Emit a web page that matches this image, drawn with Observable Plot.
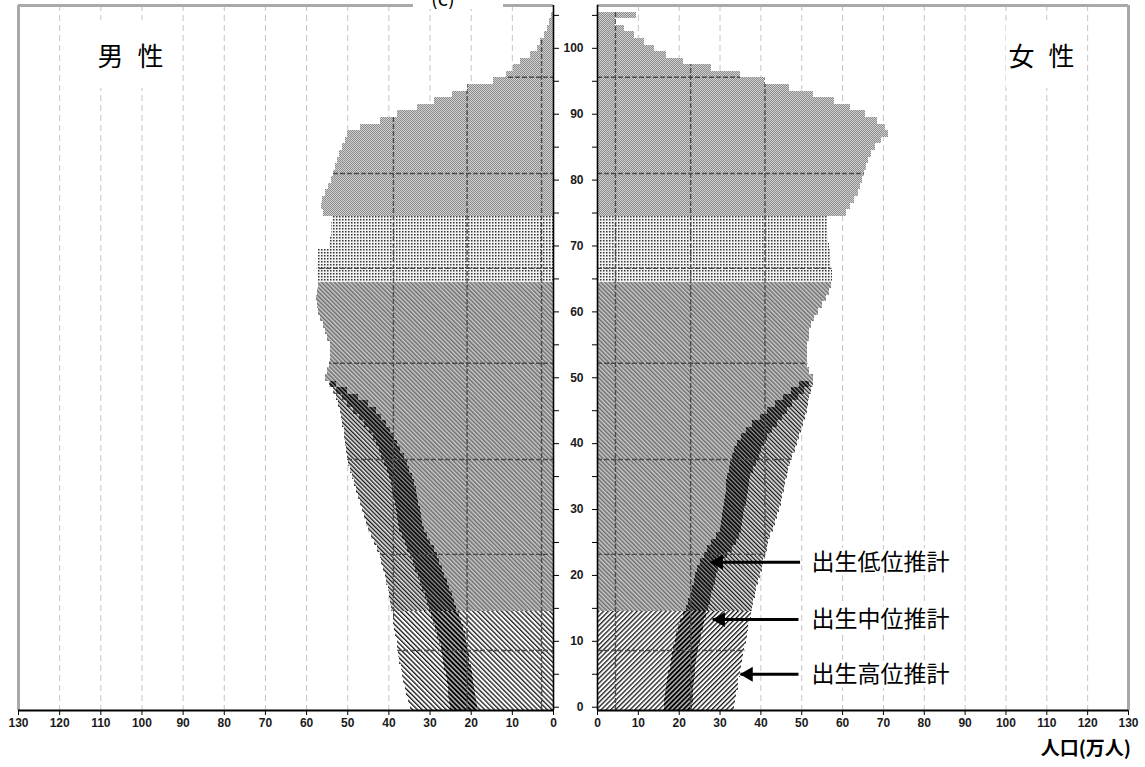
<!DOCTYPE html>
<html><head><meta charset="utf-8">
<script src="https://cdn.jsdelivr.net/npm/d3@7"></script>
<script src="https://cdn.jsdelivr.net/npm/@observablehq/plot@0.6"></script>
<style>
body{margin:0;background:#fff;}
#wrap{position:relative;width:1145px;height:767px;overflow:hidden;background:#fff;}
#left,#right{position:absolute;top:0;}
#left{left:0;} #right{left:555px;}
.box{position:absolute;background:#fff;display:flex;align-items:center;justify-content:center;font-family:"Noto Sans CJK JP",sans-serif;color:#000;}
.sex{font-size:26px;letter-spacing:4px;}
#unit{position:absolute;right:14px;top:733px;font-family:"Noto Sans CJK JP",sans-serif;font-weight:bold;font-size:19px;color:#000;}
#ttl{position:absolute;left:413px;top:0;width:90px;height:9px;overflow:hidden;background:#fff;}
#ttl span{position:absolute;left:18px;top:-14px;font-family:"Noto Sans CJK JP",sans-serif;font-size:20px;line-height:24px;}
</style></head><body>
<svg id="pat" width="0" height="0" style="position:absolute"><defs></defs></svg>
<div id="wrap">
  <div id="left"></div>
  <div id="right"></div>
  <div id="ttl"><span>(c)</span></div>
  <div class="box sex" style="left:95px;top:20px;width:75px;height:68px;">男 性</div>
  <div class="box sex" style="left:1006px;top:20px;width:75px;height:68px;">女 性</div>
  <div id="unit">人口(万人)</div>
</div>
<script>
// ---------------- data (万人) ----------------
const ages = d3.range(0, 106);            // 0 ... 105(+)
// ages 0-49: three birth variants
const maleLow  = [18.5,18.7,18.9,19.2,19.5,19.8,20.0,20.3,20.5,20.8,21.1,21.5,21.9,22.4,22.9,23.5,24.0,24.6,25.2,25.8,26.4,27.0,27.6,28.2,29.0,29.8,30.6,31.3,31.8,32.1,32.4,32.7,33.0,33.4,33.8,34.3,34.9,35.5,36.3,37.1,37.9,38.6,39.5,40.5,41.7,43.0,45.0,47.3,50.0,52.8];
const maleMed  = [25.0,25.2,25.4,25.6,25.8,26.1,26.4,26.7,27.0,27.3,27.7,28.1,28.6,29.1,29.6,30.1,30.6,31.2,31.8,32.3,32.9,33.5,34.1,34.8,35.4,36.0,36.7,37.3,37.6,37.8,38.1,38.4,38.8,39.1,39.4,39.8,40.4,41.0,41.7,42.3,42.9,43.8,44.8,45.9,47.2,48.6,50.0,51.3,52.7,54.2];
const maleHigh = [34.8,35.2,35.6,36.0,36.4,36.7,37.0,37.3,37.6,37.8,38.0,38.3,38.6,38.8,39.0,39.3,39.6,39.9,40.2,40.5,40.9,41.3,41.7,42.1,42.8,43.5,44.2,44.9,45.4,45.9,46.4,46.9,47.3,47.8,48.3,48.8,49.3,49.7,50.0,50.3,50.5,50.7,50.9,51.2,51.5,51.8,52.3,52.8,53.5,54.5];
// ages 50-105+: common to all variants
const maleOld  = [55.4,54.8,54.4,54.2,54.2,54.3,54.8,55.4,56.0,56.6,57.0,57.3,57.5,57.4,57.1,57.2,57.4,57.4,57.2,57.0,54.4,54.2,54.0,53.9,53.8,55.9,56.4,56.2,55.4,54.7,54.0,53.4,53.0,52.5,52.0,51.3,50.6,50.0,47.0,42.0,38.0,33.0,29.0,24.5,21.0,14.5,11.5,9.6,8.0,5.5,4.0,3.2,2.2,1.5,1.0,0.5];
const femaleLow  = [16.3,16.4,16.6,16.9,17.2,17.5,17.8,18.1,18.4,18.7,19.0,19.4,19.8,20.3,21.0,21.8,22.4,22.9,23.3,23.7,24.1,24.5,25.3,26.2,27.0,28.0,29.1,30.0,30.3,30.6,30.9,31.2,31.4,31.6,31.7,31.8,32.2,32.5,33.0,33.6,34.3,35.2,36.4,38.0,39.8,41.6,43.5,45.5,47.5,49.5];
const femaleMed  = [23.3,23.4,23.5,23.6,23.7,23.9,24.1,24.3,24.5,24.8,25.1,25.5,25.9,26.3,26.8,27.2,27.6,28.0,28.4,28.8,29.2,29.6,30.6,31.8,33.0,34.0,34.7,35.2,35.5,35.8,36.1,36.4,36.7,36.9,37.2,37.5,38.1,38.9,39.6,40.2,40.8,41.7,42.8,44.1,45.3,46.5,47.8,49.2,50.6,51.8];
const femaleHigh = [33.5,33.8,34.1,34.4,34.6,34.9,35.2,35.5,35.8,36.1,36.4,36.7,37.0,37.3,37.6,37.9,38.2,38.6,39.0,39.4,39.9,40.3,40.7,41.1,41.5,41.9,42.3,43.0,43.5,44.1,44.6,45.0,45.3,45.7,46.1,46.5,46.8,47.2,47.8,48.4,49.0,49.4,49.9,50.4,50.9,51.4,51.7,52.0,52.4,52.8];
const femaleOld  = [53.0,52.0,51.5,51.3,51.3,51.5,51.8,52.0,52.5,53.2,54.0,55.0,56.0,56.8,57.3,57.6,57.6,57.4,57.2,57.0,56.8,56.6,56.5,56.3,56.2,61.0,62.0,63.0,63.8,64.3,64.8,65.3,65.8,66.3,67.0,68.0,69.6,71.2,70.5,68.5,65.5,62.0,58.0,53.0,47.0,41.0,35.0,28.0,21.0,17.0,14.0,11.5,9.0,6.5,4.5,9.5];
// age groups (start ages)
const groupStarts = [0, 15, 65, 75];
const groupNames  = ["g0", "g15", "g65", "g75"];
// ticks
const xTicks = [0,10,20,30,40,50,60,70,80,90,100,110,120,130];
const xTickLabels = ["0","10","20","30","40","50","60","70","80","90","100","110","120","130"];
const gridTicks = [10,20,30,40,50,60,70,80,90,100,110,120];
const yTicksMinor = [0,5,10,15,20,25,30,35,40,45,50,55,60,65,70,75,80,85,90,95,100,105];
const yTicksMajor = [0,10,20,30,40,50,60,70,80,90,100];
// dark grid drawn inside the bars
const innerGridAges = [8.6,23.2,37.6,52.2,66.6,81.0,95.6];
const innerGridMale = [2.9,21.0,38.9];
const innerGridFemale = [4.4,22.8,41.0];
// annotations
const noteLabels = ["出生低位推計","出生中位推計","出生高位推計"];
const noteAges   = [22.0, 13.3, 5.0];
const noteTips   = [27.7, 28.2, 35.0];
const noteTails  = [49.6, 49.2, 49.2];
const noteTextX  = [52.4, 52.4, 52.4];

// ---------------- patterns ----------------
const defs = d3.select("#pat defs");
function hatch(id, angle, size, lw, bg, fg){
  const p = defs.append("pattern").attr("id", id).attr("width", size).attr("height", size)
    .attr("patternUnits","userSpaceOnUse").attr("patternTransform", `rotate(${angle})`);
  p.append("rect").attr("width", size).attr("height", size).attr("fill", bg);
  p.append("rect").attr("width", lw).attr("height", size).attr("fill", fg);
}
hatch("in15",  -45, 3.0, 1.5, "#cdcdcd", "#6c6c6c");
hatch("in0L",  -45, 3.4, 1.4, "#ffffff", "#2a2a2a");
hatch("in0R",   45, 3.4, 1.4, "#ffffff", "#2a2a2a");
hatch("hi15",  -45, 3.0, 1.3, "#e6e6e6", "#161616");
hatch("hi0L",  -45, 3.4, 1.3, "#ffffff", "#111111");
hatch("hi0R",   45, 3.4, 1.3, "#ffffff", "#111111");
hatch("md15",  -45, 3.0, 1.7, "#9a9a9a", "#000000");
hatch("md0L",  -45, 3.4, 1.8, "#b0b0b0", "#000000");
hatch("md0R",   45, 3.4, 1.8, "#b0b0b0", "#000000");
{
  const p = defs.append("pattern").attr("id","p65").attr("width",3).attr("height",3).attr("patternUnits","userSpaceOnUse");
  p.append("rect").attr("width",3).attr("height",3).attr("fill","#f2f2f2");
  p.append("rect").attr("width",1.5).attr("height",1.5).attr("fill","#353535");
  const q = defs.append("pattern").attr("id","p75").attr("width",2).attr("height",2).attr("patternUnits","userSpaceOnUse");
  q.append("rect").attr("width",2).attr("height",2).attr("fill","#d0d0d0");
  q.append("rect").attr("width",1).attr("height",1).attr("fill","#8c8c8c");
  q.append("rect").attr("x",1).attr("y",1).attr("width",1).attr("height",1).attr("fill","#8c8c8c");
}

function groupOf(a){ let g = 0; groupStarts.forEach((s,i)=>{ if (a >= s) g = i; }); return groupNames[g]; }

function barMarks(low, med, high, old, side){
  const lowRows  = ages.map(a => ({age:a, v: a < 50 ? low[a] : old[a-50], g: groupOf(a)}));
  const medRows  = ages.filter(a => a < 50).map(a => ({age:a, v: med[a], g: groupOf(a)}));
  const highRows = ages.filter(a => a < 50).map(a => ({age:a, v: high[a], g: groupOf(a)}));
  const fills = {
    high: {g0: `hi0${side}`, g15: "hi15"},
    med:  {g0: `md0${side}`, g15: "md15"},
    low:  {g0: `in0${side}`, g15: "in15", g65: "p65", g75: "p75"}
  };
  const layers = [["high", highRows], ["med", medRows], ["low", lowRows]];
  const marks = [];
  for (const [layer, rows] of layers) {
    for (const [g, pid] of Object.entries(fills[layer])) {
      marks.push(Plot.rect(rows.filter(d => d.g === g), {
        x1: () => 0, x2: "v", y1: d => d.age - 0.5, y2: d => d.age + 0.5,
        fill: `url(#${pid})`, shapeRendering: "crispEdges", ariaDescription: "bars"
      }));
    }
  }
  return marks;
}

function commonMarks(innerX){
  return [
    Plot.ruleY(innerGridAges, {stroke:"#4a4a4a", strokeWidth:1.4, strokeDasharray:"5,2", ariaDescription:"innergrid"}),
    Plot.ruleX(innerX, {stroke:"#4a4a4a", strokeWidth:1.4, strokeDasharray:"5,2", ariaDescription:"innergrid"}),
    Plot.ruleX([130], {stroke:"#a9a9a9", strokeWidth:3}),
    Plot.ruleY([106.5], {stroke:"#a9a9a9", strokeWidth:3}),
    Plot.ruleX([0], {stroke:"#000", strokeWidth:1.6}),
    Plot.ruleY([-0.5], {stroke:"#000", strokeWidth:2}),
    Plot.axisX(xTicks, {anchor:"bottom", tickSize:5, tickPadding:3, label:null,
      tickFormat: d => xTickLabels[xTicks.indexOf(d)], fontWeight:"bold", fontSize:12, fill:"#1a1a1a", stroke:"#000"})
  ];
}

function clipInner(svg, key){
  const s = d3.select(svg);
  const cp = s.append("defs").append("clipPath").attr("id", "clip-" + key);
  s.selectAll('g[aria-description="bars"] rect').each(function(){ cp.node().appendChild(this.cloneNode()); });
  s.selectAll('g[aria-description="innergrid"]').attr("clip-path", `url(#clip-${key})`);
}

const style = {background:"transparent", fontFamily:"'Liberation Sans', Arial, sans-serif", overflow:"visible"};

const left = Plot.plot({
  width: 575, height: 767, marginLeft: 18, marginRight: 22, marginTop: 5, marginBottom: 57,
  x: {domain:[0,130], reverse:true},
  y: {domain:[-0.5,106.5]},
  style,
  marks: [
    Plot.ruleX(gridTicks, {stroke:"#c4c4c4", strokeWidth:1, strokeDasharray:"6,4"}),
    ...barMarks(maleLow, maleMed, maleHigh, maleOld, "L"),
    ...commonMarks(innerGridMale),
    Plot.axisY(yTicksMinor, {anchor:"right", tickSize:5, tickFormat: () => "", label:null, stroke:"#000"})
  ]
});
clipInner(left, "L");
document.getElementById("left").appendChild(left);

const notes = noteLabels.map((label, i) => ({label, age: noteAges[i], tip: noteTips[i], tail: noteTails[i], lx: noteTextX[i]}));

const right = Plot.plot({
  width: 590, height: 767, marginLeft: 42, marginRight: 17, marginTop: 5, marginBottom: 57,
  x: {domain:[0,130]},
  y: {domain:[-0.5,106.5]},
  style,
  marks: [
    Plot.ruleX(gridTicks, {stroke:"#c4c4c4", strokeWidth:1, strokeDasharray:"6,4"}),
    ...barMarks(femaleLow, femaleMed, femaleHigh, femaleOld, "R"),
    ...commonMarks(innerGridFemale),
    Plot.axisY(yTicksMinor, {anchor:"left", tickSize:5, tickFormat: () => "", label:null, stroke:"#000"}),
    Plot.axisY(yTicksMajor, {anchor:"left", tickSize:0, tickPadding:14, label:null, fontWeight:"bold", fontSize:12, fill:"#1a1a1a"}),
    Plot.link(notes, {x1:"tail", x2:"tip", y1:"age", y2:"age", stroke:"#000", strokeWidth:3}),
    Plot.dot(notes, {x:"tip", y:"age", symbol:"triangle", r:5.5, fill:"#000", stroke:"none", rotate:-90, dx:8}),
    Plot.text(notes, {x:"lx", y:"age", text:"label", textAnchor:"start", fontSize:23,
      fontFamily:"'Noto Sans CJK JP', sans-serif", fill:"#000", stroke:"#fff", strokeWidth:7})
  ]
});
clipInner(right, "R");
document.getElementById("right").appendChild(right);
</script>
</body></html>
